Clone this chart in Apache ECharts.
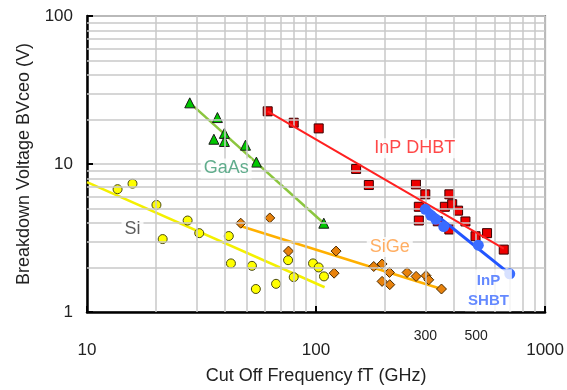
<!DOCTYPE html>
<html>
<head>
<meta charset="utf-8">
<script src="https://cdn.jsdelivr.net/npm/echarts@6/dist/echarts.min.js"></script>
<style>
html,body{margin:0;padding:0;background:#fff;}
#chart{width:567px;height:390px;}
</style>
</head>
<body>
<div id="chart"></div>
<script>
// ---- data (fT in GHz, BVceo in V) ----
var siX = [13.6, 15.8, 20.1, 21.4, 27.5, 30.9, 41.6, 42.5, 52.5, 54.6, 66.9, 75.5, 79.9, 97.0, 102.7, 108.3];
var siY = [6.76, 7.36, 5.29, 3.11, 4.15, 3.41, 3.26, 2.13, 2.05, 1.43, 1.55, 2.24, 1.72, 2.13, 2.0, 1.74];
var siFitX = [10, 109];
var siFitY = [7.55, 1.47];

var gaasX = [28.1, 37.1, 35.8, 39.8, 39.8, 49.2, 54.9, 108.1];
var gaasY = [25.9, 20.6, 14.7, 16.1, 14.2, 13.4, 10.3, 3.98];
var gaasFitX = [28.1, 108.1];
var gaasFitY = [25.9, 3.98];

var dhbtX = [61.5, 79.9, 102.7, 149.6, 170, 273, 300, 281, 281, 382, 365, 393, 417, 449, 382, 497, 558, 660, 340];
var dhbtY = [22.7, 19.0, 17.4, 9.26, 7.21, 7.28, 6.24, 5.14, 4.15, 6.24, 5.14, 5.35, 4.84, 4.09, 3.61, 3.25, 3.41, 2.64, 4.1];
var dhbtFitX = [61.5, 660];
var dhbtFitY = [22.7, 2.68];

var sigeX = [46.9, 62.8, 75.8, 122.3, 119.9, 178.6, 194.2, 209.2, 194.2, 209.8, 249.7, 273.4, 302, 310.5, 352.9];
var sigeY = [3.98, 4.32, 2.58, 2.58, 1.83, 2.03, 2.11, 1.85, 1.61, 1.53, 1.85, 1.74, 1.76, 1.65, 1.43];
var sigeFitX = [46, 353];
var sigeFitY = [3.84, 1.43];

var shbtX = [300, 317, 333, 361, 511, 701];
var shbtY = [4.94, 4.5, 4.23, 3.78, 2.83, 1.81];
var shbtFitX = [298, 701];
var shbtFitY = [5.22, 1.81];

// series labels, anchored in data coordinates
var labelNames = ['GaAs', 'Si', 'SiGe', 'InP DHBT', 'InP\nSHBT'];
var labelX = [40.5, 15.8, 209.8, 270, 566];
var labelY = [9.33, 3.66, 2.75, 12.8, 1.40];

// axis ticks
var xMinorGrid = [20, 30, 40, 50, 60, 70, 80, 90, 200, 300, 400, 500, 600, 700, 800, 900];
var yMinorGrid = [2, 3, 4, 5, 6, 7, 8, 9, 20, 30, 40, 50, 60, 70, 80, 90];
var xExtraLabels = [300, 500];

function pairs(xs, ys) { return xs.map(function (x, i) { return [x, ys[i]]; }); }

var FONT = "'Liberation Sans', Arial, sans-serif";
var GRIDC = '#c8c8c8';

var gridLines = [];
xMinorGrid.forEach(function (v) {
  var item = { xAxis: v, label: { show: false } };
  if (xExtraLabels.indexOf(v) >= 0) {
    item.label = { show: true, position: 'start', formatter: String(v), fontSize: 14, color: '#222', fontFamily: FONT, distance: 17 };
  }
  gridLines.push(item);
});
yMinorGrid.forEach(function (v) { gridLines.push({ yAxis: v, label: { show: false } }); });

var labelStyles = {
  'GaAs': { color: '#3a9970' },
  'Si': { color: '#333333' },
  'SiGe': { color: '#ff9a3c' },
  'InP DHBT': { color: '#ff1a1a' },
  'InP\nSHBT': { color: '#3d6bff', fontWeight: 'bold', fontSize: 15, lineHeight: 20 }
};
var labelData = labelNames.map(function (n, i) {
  var s = labelStyles[n];
  return {
    value: [labelX[i], labelY[i]],
    label: Object.assign({ show: true, formatter: n, position: 'inside', fontSize: 18, fontFamily: FONT,
      backgroundColor: '#fff', padding: [1, 3] }, s)
  };
});

function fitLine(xs, ys, color, w, z) {
  return { type: 'line', data: pairs(xs, ys), symbol: 'none', silent: true, z: z || 3,
    lineStyle: { color: color, width: w }, animation: false };
}
function scat(xs, ys, sym, size, color, border, z) {
  return { type: 'scatter', data: pairs(xs, ys), symbol: sym, symbolSize: size, silent: true, z: z || 4,
    itemStyle: { color: color, borderColor: border, borderWidth: border === 'none' ? 0 : 1, opacity: 1 }, animation: false };
}

var option = {
  animation: false,
  backgroundColor: '#fff',
  grid: { left: 87, top: 16, width: 459, height: 300, show: true, borderColor: '#8a8a8a', borderWidth: 2, backgroundColor: 'transparent' },
  xAxis: {
    type: 'log', logBase: 10, min: 10, max: 1000,
    name: 'Cut Off Frequency fT (GHz)', nameLocation: 'middle', nameGap: 55,
    nameTextStyle: { fontSize: 18, color: '#222', fontFamily: FONT },
    axisLine: { show: true, lineStyle: { color: '#000', width: 2.5 } },
    axisTick: { show: true, inside: true, length: 6, lineStyle: { color: '#000', width: 2 } },
    axisLabel: { fontSize: 17, color: '#222', fontFamily: FONT, margin: 30,
      formatter: function (v) { return String(Math.round(v)); } },
    splitLine: { show: true, lineStyle: { color: GRIDC, width: 1.5 } },
    minorTick: { show: false }, minorSplitLine: { show: false }
  },
  yAxis: {
    type: 'log', logBase: 10, min: 1, max: 100,
    name: 'Breakdown Voltage BVceo (V)', nameLocation: 'middle', nameGap: 54, nameRotate: 90,
    nameTextStyle: { fontSize: 18, color: '#222', fontFamily: FONT },
    axisLine: { show: true, lineStyle: { color: '#000', width: 2.5 } },
    axisTick: { show: true, inside: true, length: 6, lineStyle: { color: '#000', width: 2 } },
    axisLabel: { fontSize: 17, color: '#222', fontFamily: FONT, margin: 14,
      formatter: function (v) { return String(Math.round(v)); } },
    splitLine: { show: true, lineStyle: { color: GRIDC, width: 1.5 } }
  },
  series: [
    { type: 'line', data: [], silent: true, z: 1, clip: false, symbol: 'none',
      markLine: { silent: true, symbol: ['none', 'none'], animation: false,
        lineStyle: { color: GRIDC, width: 1.5, type: 'solid' },
        emphasis: { disabled: true },
        data: gridLines } },
    fitLine(siFitX, siFitY, '#f4f000', 2.5),
    fitLine(gaasFitX, gaasFitY, '#8cc63f', 2.5),
    fitLine(sigeFitX, sigeFitY, '#ffb000', 2.5),
    scat(siX, siY, 'circle', 9, '#ffff00', '#4a4a10'),
    scat(gaasX, gaasY, 'triangle', 10, '#00c800', '#1a1a1a'),
    scat(sigeX, sigeY, 'diamond', 10, '#e8820c', '#4a2a00'),
    scat(dhbtX, dhbtY, 'rect', 9, '#ee0000', '#3a0000'),
    fitLine(dhbtFitX, dhbtFitY, '#ff2020', 2, 5),
    scat(shbtX, shbtY, 'circle', 11, '#3a6cff', 'none', 6),
    fitLine(shbtFitX, shbtFitY, '#2255ff', 3, 6),
    { type: 'scatter', data: labelData, symbolSize: 1, itemStyle: { color: 'rgba(0,0,0,0)' }, silent: true, z: 8, animation: false }
  ]
};

var chart = echarts.init(document.getElementById('chart'), null, { renderer: 'canvas' });
chart.setOption(option);
</script>
</body>
</html>
